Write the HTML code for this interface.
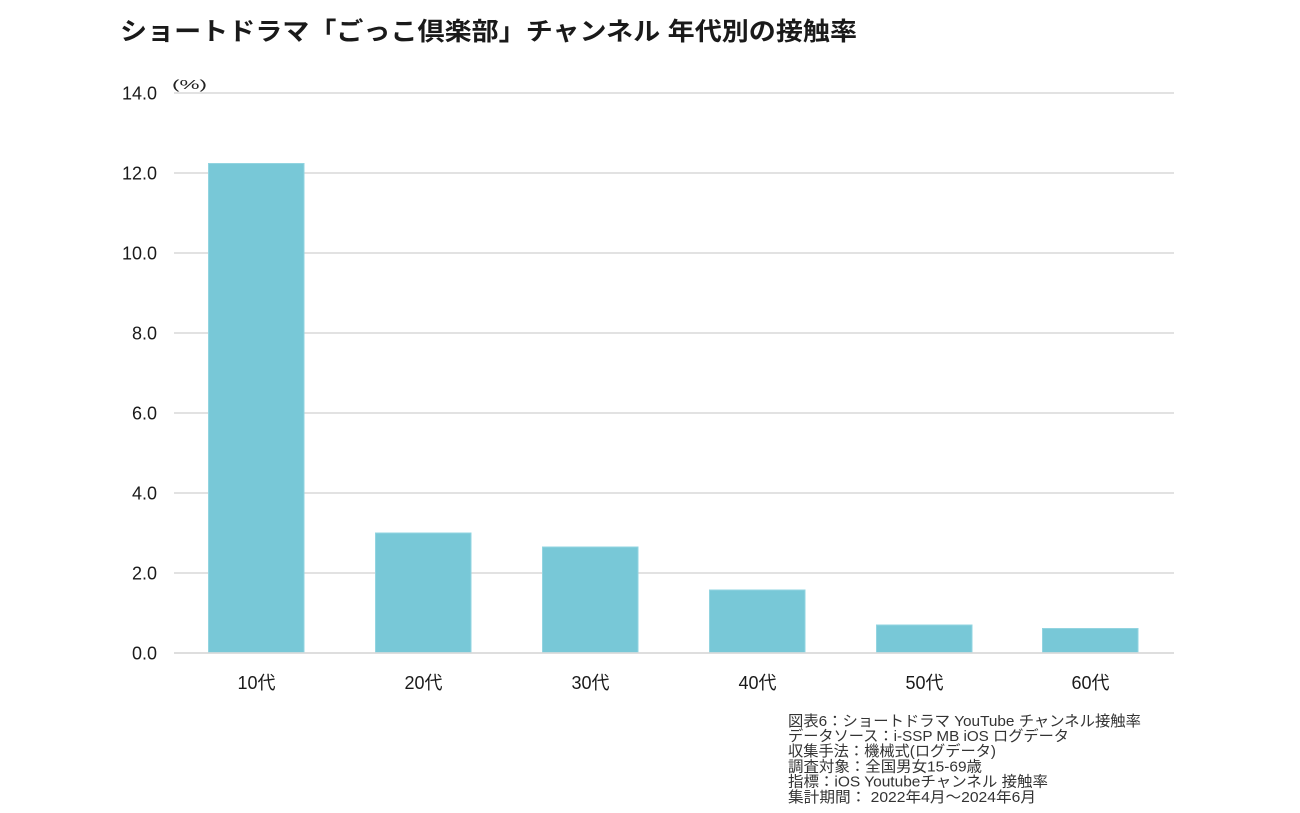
<!DOCTYPE html>
<html>
<head>
<meta charset="utf-8">
<style>
html,body{margin:0;padding:0;background:#fff;}
svg{display:block;}
text{font-family:"Liberation Sans","Noto Sans CJK JP",sans-serif;}
</style>
</head>
<body>
<svg width="1300" height="813" viewBox="0 0 1300 813" xmlns="http://www.w3.org/2000/svg">
<rect width="1300" height="813" fill="#fff"/>
<text x="120" y="40" font-size="25" font-weight="bold" fill="#1a1a1a" textLength="737" lengthAdjust="spacingAndGlyphs">ショートドラマ「ごっこ倶楽部」チャンネル 年代別の接触率</text>

<text x="172" y="89" font-size="13" fill="#222" textLength="35" lengthAdjust="spacingAndGlyphs">(%)</text>

<g stroke="#d9d9d9" stroke-width="1.5">
<line x1="174" y1="93" x2="1174" y2="93"/>
<line x1="174" y1="173" x2="1174" y2="173"/>
<line x1="174" y1="253" x2="1174" y2="253"/>
<line x1="174" y1="333" x2="1174" y2="333"/>
<line x1="174" y1="413" x2="1174" y2="413"/>
<line x1="174" y1="493" x2="1174" y2="493"/>
<line x1="174" y1="573" x2="1174" y2="573"/>
<line x1="174" y1="653" x2="1174" y2="653"/>
</g>

<g font-size="18" fill="#1a1a1a" text-anchor="end">
<text x="157" y="99.5">14.0</text>
<text x="157" y="179.5">12.0</text>
<text x="157" y="259.5">10.0</text>
<text x="157" y="339.5">8.0</text>
<text x="157" y="419.5">6.0</text>
<text x="157" y="499.5">4.0</text>
<text x="157" y="579.5">2.0</text>
<text x="157" y="659.5">0.0</text>
</g>

<g fill="#78c8d7" stroke="#92d4e0" stroke-width="1">
<rect x="208.5" y="163.5" width="95.5" height="489"/>
<rect x="375.5" y="533" width="95.5" height="119.5"/>
<rect x="542.5" y="547" width="95.5" height="105.5"/>
<rect x="709.5" y="590" width="95.5" height="62.5"/>
<rect x="876.5" y="625" width="95.5" height="27.5"/>
<rect x="1042.5" y="628.5" width="95.5" height="24"/>
</g>
<line x1="174" y1="653" x2="1174" y2="653" stroke="#d9d9d9" stroke-width="1.5"/>

<g font-size="18" fill="#1a1a1a" text-anchor="middle">
<text x="256.5" y="689">10代</text>
<text x="423.5" y="689">20代</text>
<text x="590.5" y="689">30代</text>
<text x="757.5" y="689">40代</text>
<text x="924.5" y="689">50代</text>
<text x="1090.5" y="689">60代</text>
</g>

<g font-size="15" fill="#333">
<text x="788" y="726" textLength="353" lengthAdjust="spacingAndGlyphs">図表6：ショートドラマ YouTube チャンネル接触率</text>
<text x="788" y="741" textLength="281" lengthAdjust="spacingAndGlyphs">データソース：i-SSP MB iOS ログデータ</text>
<text x="788" y="756" textLength="208" lengthAdjust="spacingAndGlyphs">収集手法：機械式(ログデータ)</text>
<text x="788" y="771.5" textLength="194" lengthAdjust="spacingAndGlyphs">調査対象：全国男女15-69歳</text>
<text x="788" y="786.5" textLength="260" lengthAdjust="spacingAndGlyphs">指標：iOS Youtubeチャンネル 接触率</text>
<text x="788" y="802" textLength="248" lengthAdjust="spacingAndGlyphs">集計期間： 2022年4月～2024年6月</text>
</g>
</svg>
</body>
</html>
